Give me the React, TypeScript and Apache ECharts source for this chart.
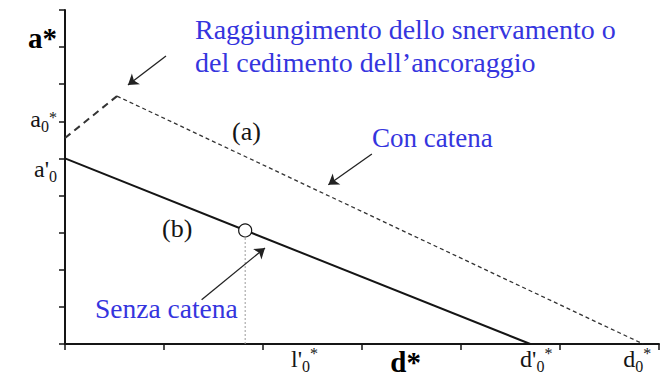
import { useEffect, useRef } from "react";
import * as echarts from "echarts";

// Tick positions along the two axes (dimensionless units)
const xTicks = [0, 1, 2, 3, 4, 5, 6];
const yTicks = [0, 1, 2, 3, 4, 5, 6, 7, 8, 9];

// Axis labels written as base_sub^sup, with the value where each one sits
const xLabelTexts = ["l'_0^*", "d'_0^*", "d_0^*"];
const xLabelValues = [2.42, 4.76, 5.78];
const yLabelTexts = ["a'_0", "a_0^*"];
const yLabelValues = [4.66, 6];

// Axis symbols
const xSymbol = "d*";
const xSymbolValue = 3.44;
const ySymbol = "a*";
const ySymbolValue = 8.24;

// (b) Senza catena: linear decay from a'0 to d'0
const senzaCatena = [
  [0, 5],
  [4.7, 0],
];
// (a) Con catena: rising branch up to yielding / anchorage failure ...
const conCatenaRise = [
  [0, 5.55],
  [0.525, 6.68],
];
// ... then linear decay down to d0
const conCatenaDecay = [
  [0.525, 6.68],
  [5.84, 0],
];
// Marked point on (b), projected onto the d* axis
const pointB = [1.82, 3.06];

// Pointer arrows: [from, to]
const arrows = [
  [[1.02, 7.76], [0.636, 6.98]],
  [[3.1, 5.12], [2.66, 4.29]],
  [[1.38, 1.19], [2.02, 2.59]],
];

const SERIF = "serif";
const INK = "#151515";
const BLUE = "#3535de";

function toRich(label: string): string {
  const m = label.match(/^([^_^]+)(?:_([^^]+))?(?:\^(.+))?$/);
  if (!m) return label;
  let s = `{b|${m[1]}}`;
  if (m[2]) s += `{s|${m[2]}}`;
  if (m[3]) s += `{p|${m[3]}}`;
  return s;
}

function labelFor(
  value: number,
  texts: string[],
  values: number[],
  symbol: string,
  symbolValue: number
): string {
  if (Math.abs(value - symbolValue) < 1e-6) return `{sym|${symbol}}`;
  const i = values.findIndex((v) => Math.abs(v - value) < 1e-6);
  return i >= 0 ? toRich(texts[i]) : "";
}

const xRich = {
  b: { fontSize: 24, lineHeight: 24, fontFamily: SERIF, color: INK },
  s: { fontSize: 16, lineHeight: 16, fontFamily: SERIF, color: INK, padding: [15, 0, 0, 0] },
  p: { fontSize: 16, lineHeight: 16, fontFamily: SERIF, color: INK, padding: [0, 0, 11, 0] },
  sym: { fontSize: 29, lineHeight: 29, fontFamily: SERIF, fontWeight: "bold", color: "#000" },
};

const yRich = {
  b: { fontSize: 24, lineHeight: 24, fontFamily: SERIF, color: INK, padding: [0, 0, 4, 0] },
  s: { fontSize: 16, lineHeight: 16, fontFamily: SERIF, color: INK, padding: [11, 0, 0, 0] },
  p: { fontSize: 16, lineHeight: 16, fontFamily: SERIF, color: INK, padding: [0, 0, 8, 0] },
  sym: { fontSize: 29, lineHeight: 29, fontFamily: SERIF, fontWeight: "bold", color: "#000" },
};

function note(text: string, x: number, y: number, size: number, fill: string) {
  return {
    type: "text",
    x,
    y,
    z: 100,
    style: {
      text,
      fill,
      fontSize: size,
      fontFamily: SERIF,
      align: "left",
      verticalAlign: "middle",
      textAlign: "left",
      textVerticalAlign: "middle",
    },
  };
}

export default function App() {
  const ref = useRef<HTMLDivElement>(null);

  useEffect(() => {
    if (!ref.current) return;
    const chart = echarts.init(ref.current, undefined, { renderer: "svg" });

    const axisLine = { show: true, onZero: false, lineStyle: { color: INK, width: 2 } };
    const tickStyle = { color: INK, width: 1.5 };

    chart.setOption({
      animation: false,
      backgroundColor: "#ffffff",
      textStyle: { fontFamily: SERIF },
      grid: { left: 65, top: 10, right: 3, bottom: 35, outerBoundsMode: "none" },
      xAxis: {
        type: "value",
        min: 0,
        max: 6,
        interval: 1,
        axisLine,
        axisTick: { show: true, length: 6, customValues: xTicks, lineStyle: tickStyle },
        splitLine: { show: false },
        axisLabel: {
          show: true,
          margin: 3,
          fontFamily: SERIF,
          customValues: [...xLabelValues, xSymbolValue],
          formatter: (v: number) => labelFor(v, xLabelTexts, xLabelValues, xSymbol, xSymbolValue),
          rich: xRich,
        },
      },
      yAxis: {
        type: "value",
        min: 0,
        max: 9,
        interval: 1,
        axisLine,
        axisTick: { show: true, length: 6, customValues: yTicks, lineStyle: tickStyle },
        splitLine: { show: false },
        axisLabel: {
          show: true,
          margin: 8,
          fontFamily: SERIF,
          customValues: [...yLabelValues, ySymbolValue],
          formatter: (v: number) => labelFor(v, yLabelTexts, yLabelValues, ySymbol, ySymbolValue),
          rich: yRich,
        },
      },
      series: [
        {
          name: "Senza catena",
          type: "line",
          data: senzaCatena,
          symbol: "none",
          lineStyle: { color: INK, width: 2 },
          z: 3,
        },
        {
          name: "Con catena (salita)",
          type: "line",
          data: conCatenaRise,
          symbol: "none",
          lineStyle: { color: "#333", width: 2, type: [7, 5] },
          z: 3,
        },
        {
          name: "Con catena",
          type: "line",
          data: conCatenaDecay,
          symbol: "none",
          lineStyle: { color: "#333", width: 1.3, type: [4, 3] },
          z: 3,
        },
        {
          name: "proiezione",
          type: "line",
          data: [
            [pointB[0], 0],
            [pointB[0], pointB[1]],
          ],
          symbol: "none",
          lineStyle: { color: "#9a9a9a", width: 1, type: [2, 2] },
          z: 2,
        },
        {
          name: "punto",
          type: "scatter",
          data: [pointB],
          symbol: "circle",
          symbolSize: 13,
          itemStyle: { color: "#ffffff", borderColor: INK, borderWidth: 1.2, opacity: 1 },
          z: 5,
        },
        {
          name: "frecce",
          type: "lines",
          coordinateSystem: "cartesian2d",
          data: arrows.map((c) => ({ coords: c })),
          symbol: ["none", "arrow"],
          symbolSize: 10,
          lineStyle: { color: "#222", width: 1.3, opacity: 1, curveness: 0 },
          z: 4,
        },
      ],
      graphic: [
        note("Raggiungimento dello snervamento o", 195, 29, 28, BLUE),
        note("del cedimento dell\u2019ancoraggio", 195, 62, 28, BLUE),
        note("(a)", 232, 131, 26, INK),
        note("Con catena", 372, 138, 27, BLUE),
        note("(b)", 162, 228, 26, INK),
        note("Senza catena", 95, 308, 27.5, BLUE),
      ],
    });

    return () => chart.dispose();
  }, []);

  return (
    <div
      ref={ref}
      style={{ position: "absolute", left: 0, top: 0, width: 662, height: 379, background: "#fff" }}
    />
  );
}
